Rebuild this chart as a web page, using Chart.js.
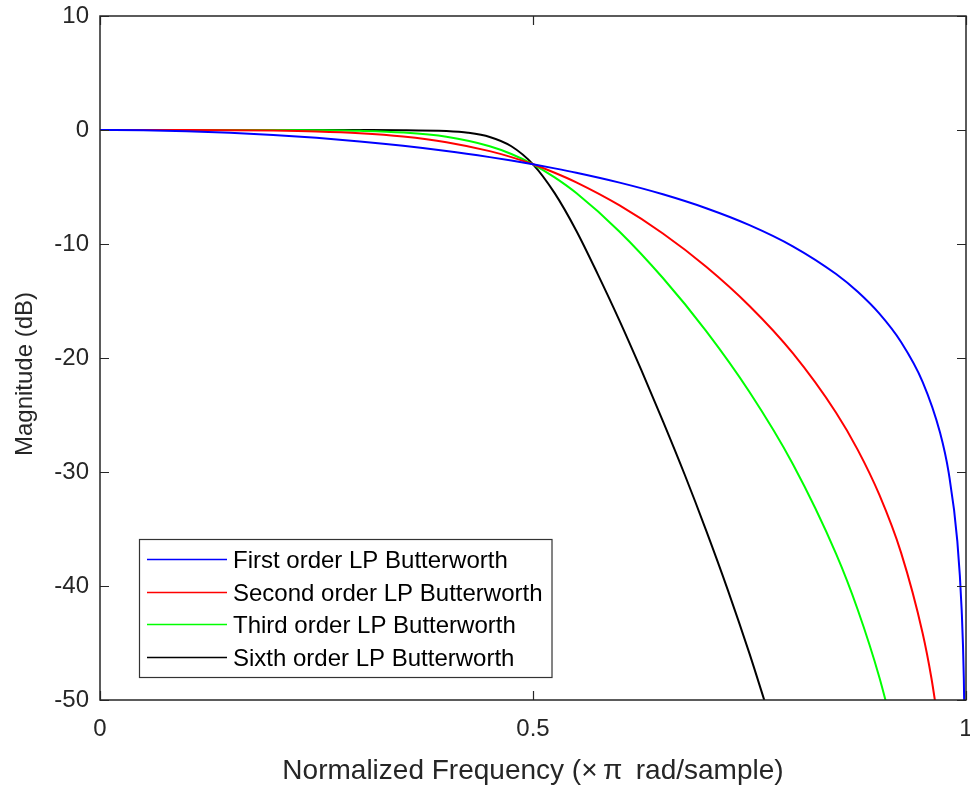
<!DOCTYPE html>
<html>
<head>
<meta charset="utf-8">
<script src="https://cdn.jsdelivr.net/npm/chart.js@4/dist/chart.umd.min.js"></script>
<style>
  html, body { margin: 0; padding: 0; background: #fff; }
  #wrap { width: 970px; height: 785px; }
</style>
</head>
<body>
<div id="wrap"><canvas id="chart" width="970" height="785"></canvas></div>
<script>
// Normalized frequency (x pi rad/sample) and magnitude (dB)
const freqFirst = [0, 0.05, 0.1, 0.15, 0.2, 0.25, 0.3, 0.35, 0.4, 0.45, 0.475, 0.5, 0.525, 0.55, 0.6, 0.65, 0.7, 0.75, 0.8, 0.85, 0.875, 0.9, 0.925, 0.95, 0.97, 0.98, 0.99, 0.995, 0.9975, 0.999];
const magFirst = [0, -0.027, -0.108, -0.243, -0.436, -0.688, -1.002, -1.385, -1.841, -2.379, -2.679, -3.010, -3.366, -3.749, -4.616, -5.638, -6.859, -8.343, -10.2, -12.636, -14.195, -16.113, -18.597, -22.107, -26.54, -30.06, -36.08, -42.1, -48.12, -56.08];

const freqSecond = [0, 0.1, 0.15, 0.2, 0.25, 0.3, 0.35, 0.4, 0.45, 0.475, 0.5, 0.525, 0.55, 0.6, 0.65, 0.7, 0.75, 0.8, 0.85, 0.875, 0.9, 0.925, 0.95, 0.96, 0.97];
const magSecond = [0, -0.003, -0.014, -0.048, -0.126, -0.283, -0.573, -1.068, -1.853, -2.379, -3.010, -3.75, -4.593, -6.617, -9.08, -11.997, -15.437, -19.577, -24.8, -28.06, -32.014, -37.07, -44.16, -48.05, -53.06];

const freqThird = [0, 0.2, 0.25, 0.3, 0.35, 0.4, 0.45, 0.475, 0.5, 0.525, 0.55, 0.6, 0.65, 0.7, 0.75, 0.8, 0.85, 0.875, 0.9, 0.92];
const magThird = [0, -0.005, -0.022, -0.075, -0.224, -0.596, -1.424, -2.104, -3.010, -4.159, -5.534, -8.92, -12.985, -17.645, -22.988, -29.298, -37.179, -42.08, -48.02, -53.9];

const freqSixth = [0, 0.2, 0.3, 0.35, 0.4, 0.425, 0.45, 0.475, 0.5, 0.525, 0.55, 0.575, 0.6, 0.625, 0.65, 0.675, 0.7, 0.725, 0.75, 0.77];
const magSixth = [0, 0, -0.001, -0.012, -0.093, -0.243, -0.609, -1.424, -3.010, -5.535, -8.83, -12.683, -16.741, -21.048, -25.534, -30.198, -35.141, -40.355, -45.933, -50.72];

const seriesLabels = ['First order LP Butterworth', 'Second order LP Butterworth', 'Third order LP Butterworth', 'Sixth order LP Butterworth'];
const seriesColors = ['#0000ff', '#ff0000', '#00ff00', '#000000'];

const xTicks = [0, 0.5, 1];
const yTicks = [-50, -40, -30, -20, -10, 0, 10];
const yTitle = 'Magnitude (dB)';
const xTitle = 'Normalized Frequency (\u00d7\u2009\u03c0\u2009 rad/sample)';

const toPoints = (xs, ys) => xs.map((x, i) => ({ x, y: ys[i] }));
const seriesData = [
  toPoints(freqFirst, magFirst),
  toPoints(freqSecond, magSecond),
  toPoints(freqThird, magThird),
  toPoints(freqSixth, magSixth)
];

const fontFamily = '"Liberation Sans", Arial, sans-serif';
const axisColor = '#262626';

// box around the axes with inward ticks, like MATLAB
const boxPlugin = {
  id: 'boxPlugin',
  afterDatasetsDraw(chart) {
    const { ctx, chartArea: a, scales } = chart;
    ctx.save();
    ctx.strokeStyle = axisColor;
    ctx.lineWidth = 1.2;
    ctx.beginPath();
    xTicks.forEach(v => {
      const px = Math.round(scales.x.getPixelForValue(v)) + 0.5;
      ctx.moveTo(px, a.bottom); ctx.lineTo(px, a.bottom - 9);
      ctx.moveTo(px, a.top); ctx.lineTo(px, a.top + 9);
    });
    yTicks.forEach(v => {
      const py = Math.round(scales.y.getPixelForValue(v)) + 0.5;
      ctx.moveTo(a.left, py); ctx.lineTo(a.left + 9, py);
      ctx.moveTo(a.right, py); ctx.lineTo(a.right - 9, py);
    });
    ctx.stroke();
    ctx.lineWidth = 1.5;
    ctx.strokeRect(a.left, a.top, a.right - a.left, a.bottom - a.top);

    // y axis title, sitting a bit below the middle as in the original
    ctx.fillStyle = axisColor;
    ctx.font = '24px ' + fontFamily;
    ctx.translate(25, 374);
    ctx.rotate(-Math.PI / 2);
    ctx.textAlign = 'center';
    ctx.textBaseline = 'middle';
    ctx.fillText(yTitle, 0, 0);
    ctx.restore();
  },
  afterDraw(chart) {
    // legend box in the lower left of the plot
    const { ctx, chartArea: a } = chart;
    ctx.save();
    ctx.font = '24px ' + fontFamily;
    const textW = Math.max(...seriesLabels.map(t => ctx.measureText(t).width));
    const rowH = 32.7;
    const boxX = a.left + 39, boxW = 94 + textW + 9;
    const boxH = 138;
    const boxY = a.bottom - 23 - boxH;
    ctx.fillStyle = '#fff';
    ctx.fillRect(boxX, boxY, boxW, boxH);
    ctx.strokeStyle = '#333';
    ctx.lineWidth = 1.2;
    ctx.strokeRect(boxX + 0.5, boxY + 0.5, boxW, boxH);
    seriesLabels.forEach((label, i) => {
      const cy = Math.round(boxY + 20 + i * rowH);
      ctx.strokeStyle = seriesColors[i];
      ctx.lineWidth = 1.3;
      ctx.beginPath();
      ctx.moveTo(boxX + 8, cy + 0.5);
      ctx.lineTo(boxX + 88, cy + 0.5);
      ctx.stroke();
      ctx.fillStyle = '#000';
      ctx.textBaseline = 'middle';
      ctx.fillText(label, boxX + 94, cy + 2);
    });
    ctx.restore();
  }
};

new Chart(document.getElementById('chart'), {
  type: 'line',
  data: {
    datasets: seriesData.map((pts, i) => ({
      label: seriesLabels[i],
      data: pts,
      borderColor: seriesColors[i],
      backgroundColor: seriesColors[i],
      borderWidth: 2,
      pointRadius: 0,
      cubicInterpolationMode: 'monotone',
      fill: false
    }))
  },
  options: {
    responsive: false,
    animation: false,
    layout: { padding: { top: 16, right: 4, left: 0, bottom: 0 } },
    plugins: {
      legend: { display: false },
      tooltip: { enabled: false }
    },
    scales: {
      x: {
        type: 'linear',
        min: 0,
        max: 1,
        afterBuildTicks: s => { s.ticks = xTicks.map(v => ({ value: v })); },
        ticks: { color: axisColor, font: { size: 24, family: fontFamily }, padding: 15, maxRotation: 0, callback: v => String(v) },
        grid: { display: false, drawTicks: false },
        border: { display: false },
        title: { display: true, text: xTitle, color: axisColor, font: { size: 28, family: fontFamily, lineHeight: 1 }, padding: { top: 0, bottom: 0 } },
        afterFit: s => { s.height = 85; s.paddingLeft = 0; s.paddingRight = 0; }
      },
      y: {
        min: -50,
        max: 10,
        afterBuildTicks: s => { s.ticks = yTicks.map(v => ({ value: v })); },
        ticks: { color: axisColor, font: { size: 24, family: fontFamily }, padding: 11, callback: v => String(v) },
        grid: { display: false, drawTicks: false },
        border: { display: false },
        title: { display: false },
        afterFit: s => { s.width = 100; s.paddingTop = 0; s.paddingBottom = 0; }
      }
    }
  },
  plugins: [boxPlugin]
});
</script>
</body>
</html>
